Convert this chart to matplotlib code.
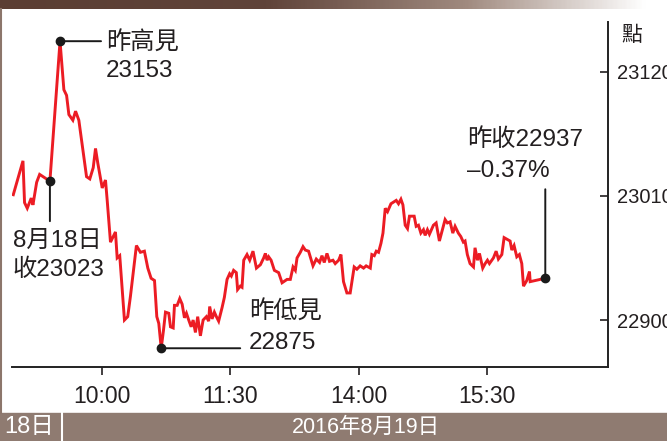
import matplotlib
matplotlib.use("Agg")
import matplotlib.pyplot as plt
import numpy as np
from matplotlib.colors import LinearSegmentedColormap
from matplotlib.patches import Rectangle

plt.rcParams['font.family'] = ['Liberation Sans', 'Noto Sans CJK TC', 'DejaVu Sans']

# trading minutes counted from 9:30 on 19 Aug (negative = 18 Aug tail, >330 = closing auction)
minutes = [-32.3, -25.5, -24.4, -22.5, -19.7, -18.5, -15.9, -13.8, -6.6, 0.5,
           3.2, 5.1, 6.7, 9.5, 11.4, 13.7, 19.1, 21.4, 23.8, 25.4,
           27.0, 30.1, 32.4, 33.6, 35.9, 39.4, 40.6, 42.4, 45.7, 48.0,
           49.9, 54.1, 56.9, 59.7, 62.1, 64.4, 66.8, 68.4, 69.8, 71.5,
           73.1, 74.5, 76.8, 78.0, 79.9, 80.8, 82.7, 84.5, 86.2, 87.8,
           89.2, 90.8, 92.5, 93.9, 95.5, 97.1, 99.0, 100.9, 103.2, 104.8,
           105.5, 107.2, 108.8, 110.2, 111.8, 114.2, 115.8, 117.7, 119.5, 120.7,
           122.3, 124.2, 125.1, 127.0, 128.2, 129.4, 131.7, 133.6, 135.9, 138.3,
           141.1, 143.4, 144.6, 145.8, 146.9, 148.6, 150.9, 153.9, 156.3, 159.8,
           162.1, 164.0, 165.6, 166.8, 169.1, 171.0, 172.6, 174.9, 178.0, 180.3,
           182.6, 184.3, 185.9, 187.8, 189.6, 192.0, 193.6, 196.0, 197.6, 199.4,
           201.8, 204.1, 206.9, 208.8, 211.1, 213.5, 215.3, 218.2, 219.3, 221.0,
           222.4, 224.0, 225.7, 227.1, 228.7, 230.3, 232.7, 236.4, 238.0, 239.7,
           241.1, 242.7, 244.3, 245.7, 249.0, 250.4, 252.0, 253.7, 255.5, 256.7,
           258.3, 259.7, 262.5, 264.4, 266.7, 270.7, 272.3, 274.2, 276.1, 277.7,
           280.0, 281.7, 283.5, 284.7, 286.3, 288.2, 290.6, 291.7, 293.4, 294.8,
           297.1, 298.8, 300.4, 301.8, 304.6, 306.5, 308.1, 310.5, 312.1, 316.3,
           317.5, 319.1, 321.0, 322.8, 324.5, 325.7, 328.0, 329.9, 330.4, 341.0]
index = [23011, 23041, 23004, 22999, 23008, 23002, 23022, 23029, 23023, 23147,
         23104, 23099, 23082, 23077, 23085, 23077, 23027, 23025, 23035, 23052,
         23039, 23017, 23024, 23006, 22969, 22978, 22955, 22957, 22900, 22903,
         22921, 22966, 22960, 22961, 22946, 22937, 22935, 22903, 22897, 22875,
         22891, 22907, 22906, 22894, 22893, 22913, 22913, 22919, 22914, 22902,
         22906, 22900, 22894, 22900, 22889, 22903, 22886, 22900, 22903, 22899,
         22912, 22901, 22907, 22903, 22899, 22911, 22920, 22936, 22941, 22939,
         22944, 22942, 22927, 22930, 22929, 22953, 22958, 22953, 22961, 22946,
         22949, 22955, 22959, 22953, 22956, 22953, 22944, 22942, 22933, 22936,
         22936, 22947, 22944, 22955, 22960, 22965, 22962, 22961, 22948, 22954,
         22951, 22957, 22951, 22959, 22952, 22953, 22950, 22953, 22958, 22934,
         22924, 22924, 22947, 22945, 22948, 22946, 22948, 22946, 22958, 22957,
         22961, 22960, 22968, 22977, 22999, 22996, 23003, 23006, 23003, 23007,
         23002, 22984, 22981, 22992, 22992, 22983, 22984, 22977, 22980, 22975,
         22980, 22976, 22984, 22986, 22970, 22989, 22986, 22987, 22977, 22983,
         22977, 22974, 22969, 22970, 22958, 22950, 22947, 22964, 22953, 22959,
         22946, 22950, 22953, 22950, 22955, 22961, 22954, 22958, 22973, 22970,
         22962, 22966, 22956, 22958, 22950, 22930, 22935, 22943, 22934, 22937]

xtick_pos = [30, 120, 210, 300]
xtick_labels = ['10:00', '11:30', '14:00', '15:30']
ytick_vals = [22900, 23010, 23120]

prev_close_min, prev_close_val = -6.6, 23023
high_min, high_val = 0.5, 23147
low_min, low_val = 71.5, 22875
close_min, close_val = 341.0, 22937

W, H = 667, 441
fig = plt.figure(figsize=(W / 100, H / 100), dpi=100)

def frac(x0, y0, x1, y1):
    # pixel box (top-left origin) -> figure fraction
    return [x0 / W, 1 - y1 / H, (x1 - x0) / W, (y1 - y0) / H]

txt = '#231f20'
red = '#ec1c24'

ax = fig.add_axes(frac(12, 22, 608, 367))
ax.plot(minutes, index, color=red, lw=2.1, solid_joinstyle='miter', zorder=3)
ax.set_xlim(-33.2, 385.0)
ax.set_ylim(22858.4, 23164.0)

for s in ['top', 'left']:
    ax.spines[s].set_visible(False)
for s in ['bottom', 'right']:
    ax.spines[s].set_linewidth(1.4)
    ax.spines[s].set_color('#222222')

ax.yaxis.tick_right()
ax.set_yticks(ytick_vals)
ax.set_yticklabels([str(v) for v in ytick_vals])
ax.tick_params(axis='y', direction='in', length=6, width=1.2, pad=6.5,
               labelsize=14.5, colors=txt)
ax.set_xticks(xtick_pos)
ax.set_xticklabels(xtick_labels)
ax.tick_params(axis='x', direction='out', length=6, width=1.2, pad=7,
               labelsize=16.5, colors=txt)

# markers and call-outs
pts = [(high_min, high_val), (prev_close_min, prev_close_val),
       (low_min, low_val), (close_min, close_val)]
ax.plot([p[0] for p in pts], [p[1] for p in pts], 'o', color='#1a1a1a',
        ms=6, zorder=5, clip_on=False)

line_kw = dict(arrowstyle='-', color='#1a1a1a', lw=1.4, shrinkA=0, shrinkB=0)
fs = 17.5

def callout(xy, line_off, lines):
    ax.annotate('', xy=xy, xytext=line_off, textcoords='offset pixels',
                arrowprops=line_kw)
    for (dx, dy), s in lines:
        ax.annotate(s, xy=xy, xytext=(dx, dy), textcoords='offset pixels',
                    ha='left', va='center', fontsize=fs, color=txt)

callout((high_min, high_val), (41, 0),
        [((46, -2), '昨高見'), ((46, -30), str(23153))])
callout((prev_close_min, prev_close_val), (0, -40),
        [((-37, -60), '8月18日'), ((-37, -89), '收23023')])
callout((low_min, low_val), (79, 0),
        [((88, 36), '昨低見'), ((88, 5), str(low_val))])
callout((close_min, close_val), (0, 89),
        [((-78, 139), '昨收22937'), ((-78, 107), '–0.37%')])

# unit label
fig.text(621 / W, 1 - 35 / H, '點', fontsize=15, color=txt, ha='left', va='center')

# top gradient strip
cmap = LinearSegmentedColormap.from_list(
    'strip', [(0, '#5b3e33'), (0.4, '#60443a'), (0.7, '#a08a7f'), (0.97, '#ffffff'), (1, '#ffffff')])
top = fig.add_axes(frac(0, 0, 667, 9))
top.imshow(np.linspace(0, 1, 400)[None, :], aspect='auto', cmap=cmap)
top.axis('off')

# left border
fig.add_artist(plt.Line2D([1.2 / W, 1.2 / W], [1 - 413 / H, 1 - 9 / H],
                          transform=fig.transFigure, color='#8c766b', lw=1.5))

# bottom date bar
bar = Rectangle((0, 0), 1, 28 / H, transform=fig.transFigure,
                color='#8f7b71', zorder=1)
fig.add_artist(bar)
fig.add_artist(plt.Line2D([62 / W, 62 / W], [0, 28 / H], transform=fig.transFigure,
                          color='white', lw=1.5))
fig.text(4 / W, 14 / H, '18日', color='white', fontsize=17, ha='left', va='center')
fig.text(366 / W, 14 / H, '2016年8月19日', color='white', fontsize=15.5,
         ha='center', va='center')

fig.savefig('out.png', dpi=100)
